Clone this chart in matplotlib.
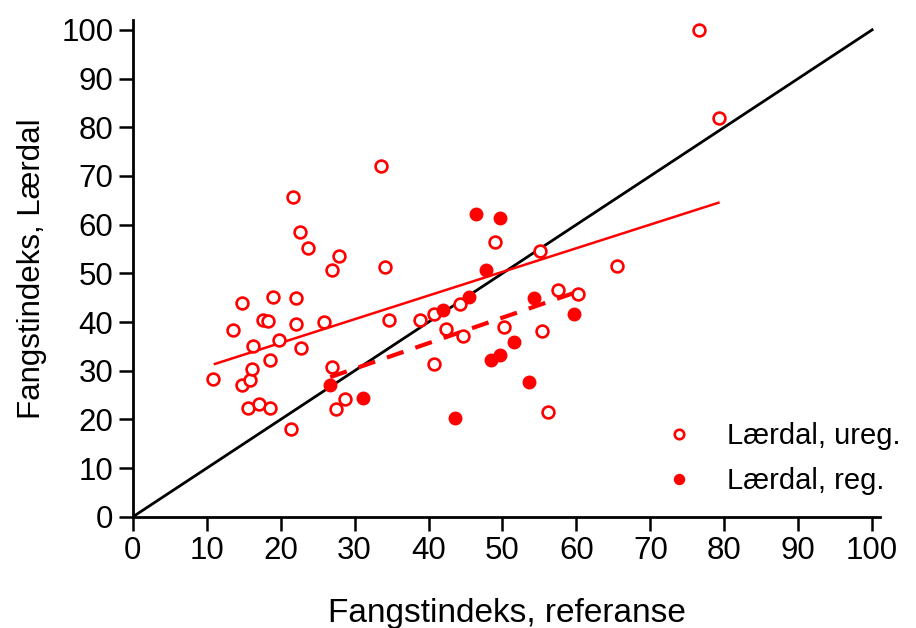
import matplotlib
matplotlib.use("Agg")
import matplotlib.pyplot as plt
import numpy as np

plt.rcParams["font.family"] = ["Liberation Sans", "DejaVu Sans"]

# open circles: Lærdal, ureg.
ureg_x = [10.9, 13.6, 14.8, 14.8, 15.6, 15.9, 16.1, 16.3, 17.1, 17.6, 18.3, 18.5, 18.6, 18.9,
          19.8, 21.4, 21.7, 22.1, 22.1, 22.6, 22.8, 23.7, 25.8, 27.0, 27.0, 27.5, 27.9, 28.7,
          33.6, 34.1, 34.6, 38.9, 40.7, 40.7, 42.3, 44.2, 44.7, 49.0, 50.2, 55.1, 55.3, 56.2,
          57.5, 60.2, 65.5, 76.6, 79.3]
ureg_y = [28.3, 38.4, 43.9, 27.1, 22.4, 28.1, 30.4, 35.1, 23.2, 40.5, 40.2, 32.2, 22.4, 45.2,
          36.3, 18.1, 65.7, 39.6, 45.0, 58.5, 34.7, 55.2, 40.0, 50.7, 30.8, 22.2, 53.6, 24.2,
          72.1, 51.3, 40.5, 40.5, 31.4, 41.7, 38.6, 43.7, 37.2, 56.5, 39.0, 54.6, 38.2, 21.6,
          46.6, 45.8, 51.5, 100.0, 81.9]

# filled circles: Lærdal, reg.
reg_x = [26.7, 31.2, 42.0, 43.6, 45.5, 46.4, 47.8, 48.4, 49.7, 49.7, 51.5, 53.6, 54.2, 59.7]
reg_y = [27.1, 24.4, 42.5, 20.3, 45.2, 62.2, 50.7, 32.2, 33.3, 61.4, 35.9, 27.7, 45.0, 41.7]

# fitted lines: intercept, slope, x-range
ureg_fit = (26.0, 0.486, 11.1, 79.2)
reg_fit = (14.7, 0.524, 26.7, 60.1)

RED = "#ff0000"
FS = 22.5
fig = plt.figure(figsize=(9.16, 6.28), dpi=100)
ax = fig.add_axes([0.145, 0.177, 0.816, 0.791])

ax.plot([0, 100], [0, 100], color="black", lw=2.0, zorder=2)
a, b, x0, x1 = ureg_fit
ax.plot([x0, x1], [a + b * x0, a + b * x1], color=RED, lw=1.8, zorder=2)
a, b, x0, x1 = reg_fit
ax.plot([x0, x1], [a + b * x0, a + b * x1], color=RED, lw=3.0, ls=(0, (4.2, 3.0)), zorder=2)

ax.plot(ureg_x, ureg_y, "o", ms=8.5, mfc="white", mec=RED, mew=1.9, ls="none",
        label="Lærdal, ureg.", clip_on=False, zorder=3)
ax.plot(reg_x, reg_y, "o", ms=9, mfc=RED, mec=RED, mew=1, ls="none",
        label="Lærdal, reg.", clip_on=False, zorder=3)

ax.set_xlim(0, 101.1)
ax.set_ylim(0, 102)
ax.set_xticks(range(0, 101, 10))
ax.set_yticks(range(0, 101, 10))
for s in ("top", "right"):
    ax.spines[s].set_visible(False)
for s in ("left", "bottom"):
    ax.spines[s].set_linewidth(2.0)
ax.tick_params(axis="both", labelsize=FS, length=10, width=1.8, direction="out", pad=4)

ax.set_xlabel("Fangstindeks, referanse", fontsize=24, labelpad=23)
ax.set_ylabel("Fangstindeks, Lærdal", fontsize=FS, labelpad=10)

ax.legend(loc="upper left", bbox_to_anchor=(0.696, 0.215), frameon=False, fontsize=21,
          handlelength=1.0, handletextpad=1.14, labelspacing=0.6, borderaxespad=0,
          markerscale=0.8)

fig.savefig("out.png", dpi=100)
